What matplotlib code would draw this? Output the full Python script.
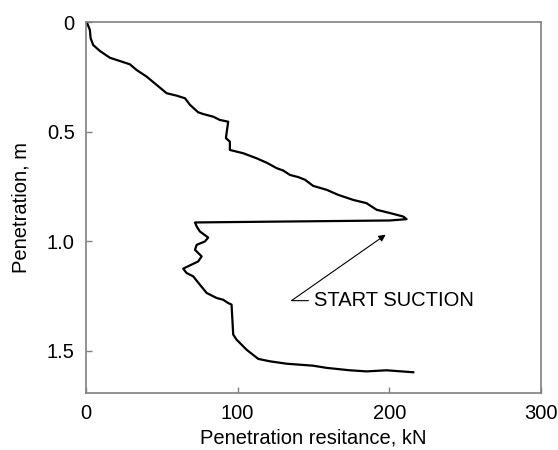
import numpy as np
import matplotlib
matplotlib.use("Agg")
import matplotlib.pyplot as plt

plt.rcParams["font.family"] = ["Liberation Sans", "DejaVu Sans"]

# penetration resistance (kN) vs penetration depth (m)
resist = [0.5, 2.6, 3.1, 4.8, 9.2, 15.8, 20.2, 29.0, 33.4, 40.0, 46.6, 53.2,
          59.8, 65.3, 68.6, 74.0, 77.3, 83.9, 88.3, 93.8, 92.7, 92.3, 94.9,
          94.9, 103.7, 112.5, 119.1, 125.7, 130.1, 134.5, 140.0, 144.4, 149.8,
          158.7, 166.3, 176.2, 185.0, 191.6, 200.4, 209.2, 211.4, 200.4, 127.9,
          71.9, 73.0, 75.1, 80.6, 78.4, 73.0, 71.9, 76.3, 74.0, 68.6, 64.1,
          66.4, 70.7, 75.1, 79.6, 86.2, 90.5, 93.8, 96.0, 97.1, 99.3, 105.9,
          113.6, 121.3, 132.3, 149.8, 158.7, 174.0, 185.0, 198.2, 215.8]
depth = [0.0, 0.036, 0.074, 0.105, 0.132, 0.163, 0.173, 0.193, 0.219, 0.249,
         0.287, 0.325, 0.336, 0.348, 0.378, 0.412, 0.420, 0.432, 0.447, 0.455,
         0.508, 0.530, 0.546, 0.584, 0.599, 0.622, 0.642, 0.667, 0.678, 0.698,
         0.708, 0.720, 0.748, 0.766, 0.789, 0.812, 0.827, 0.857, 0.872, 0.888,
         0.900, 0.906, 0.911, 0.915, 0.933, 0.956, 0.984, 1.002, 1.017, 1.040,
         1.070, 1.093, 1.111, 1.126, 1.146, 1.161, 1.199, 1.237, 1.260, 1.268,
         1.283, 1.290, 1.427, 1.450, 1.496, 1.538, 1.549, 1.560, 1.569, 1.579,
         1.590, 1.595, 1.590, 1.599]

xticks = [0, 100, 200, 300]
yticks = [0, 0.5, 1.0, 1.5]
ytick_labels = ["0", "0.5", "1.0", "1.5"]

suction_point = (197.6, 0.971)
suction_text = (150.3, 1.272)

fs = 14.5

fig = plt.figure(figsize=(5.58, 4.5), dpi=100)
ax = fig.add_axes([0.154, 0.127, 0.8155, 0.824])

ax.plot(resist, depth, color="black", lw=1.6, solid_joinstyle="round")

ax.set_xlim(0, 300)
ax.set_ylim(1.693, 0)
ax.set_xticks(xticks)
ax.set_yticks(yticks)
ax.set_yticklabels(ytick_labels)
ax.tick_params(direction="in", length=4, width=1, color="#808080",
               labelsize=fs, pad=8)

for sp in ax.spines.values():
    sp.set_color("#808080")
    sp.set_linewidth(1.2)

ax.set_xlabel("Penetration resitance, kN", fontsize=fs, labelpad=4)
ax.set_ylabel("Penetration, m", fontsize=fs, labelpad=12)

ax.annotate("START SUCTION", xy=suction_point, xytext=suction_text,
            ha="left", va="center", fontsize=fs,
            arrowprops=dict(arrowstyle="-|>", color="black", lw=0.8,
                            connectionstyle="angle,angleA=0,angleB=35,rad=0",
                            relpos=(0, 0.5), shrinkA=2, shrinkB=0,
                            mutation_scale=10))

fig.savefig("out.png", dpi=100)
